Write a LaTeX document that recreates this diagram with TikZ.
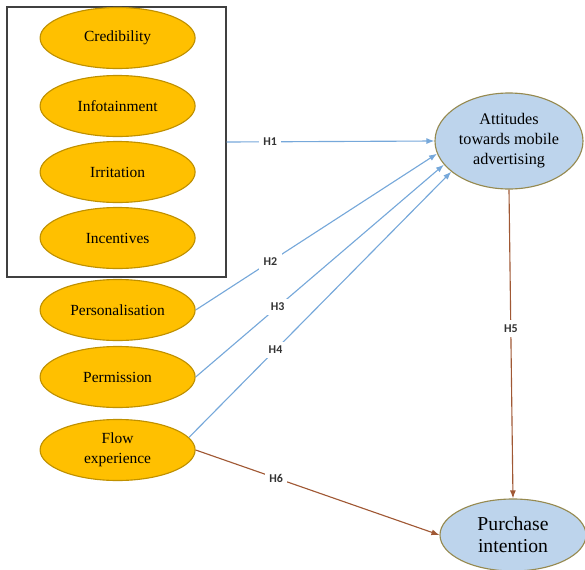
\documentclass[tikz,border=0pt]{standalone}
\definecolor{ambergold}{RGB}{255,192,0}
\definecolor{amberdark}{RGB}{191,144,0}
\definecolor{paleblue}{RGB}{189,212,236}
\definecolor{olivedark}{RGB}{150,138,80}
\definecolor{linkblue}{RGB}{118,168,218}
\definecolor{linkbrown}{RGB}{160,88,52}
\usepackage{fontspec}
\setmainfont{Liberation Serif}
\newfontfamily\hypfont{Carlito}
\usepackage{tikz}
\usetikzlibrary{shapes.geometric,arrows.meta,positioning}

\begin{document}
\begin{tikzpicture}[
			factor/.style={ellipse, draw=amberdark, fill=ambergold, thick,
				minimum width=3.875cm, minimum height=1.525cm, inner sep=0pt,
				align=center, font=\rmfamily\fontsize{11}{14}\selectfont},
			outcome/.style={ellipse, draw=olivedark, fill=paleblue, thick,
				inner sep=0pt, align=center},
			grpbox/.style={draw=black!75, thick, minimum width=5.475cm,
				minimum height=6.75cm, inner sep=0pt},
			arrowb/.style={-{Latex[length=2mm,width=1.5mm]}, linkblue, thick},
			arrowr/.style={-{Latex[length=2mm,width=1.5mm]}, linkbrown, thick},
			hyp/.style={fill=white, inner sep=3pt, font=\hypfont\bfseries\fontsize{8.5}{10}\selectfont, text=black!80}
		]
			\useasboundingbox (0,0) rectangle (14.625,-14.25);
			\node[grpbox] (grp) at (2.9125,-3.55) {};
			\node[factor] (cred) at (2.94,-0.95) {Credibility};
			\node[factor] (info) at (2.94,-2.65) {Infotainment};
			\node[factor] (irr) at (2.94,-4.3) {Irritation};
			\node[factor] (inc) at (2.94,-5.95) {Incentives};
			\node[factor] (pers) at (2.94,-7.75) {Personalisation};
			\node[factor] (perm) at (2.94,-9.425) {Permission};
			\node[factor] (flow) at (2.94,-11.25) {Flow\\experience};
			\node[outcome, minimum width=3.7cm, minimum height=2.4cm,
				font=\rmfamily\fontsize{11.5}{14.2}\selectfont] (att) at (12.725,-3.525)
				{Attitudes\\towards mobile\\advertising};
			\node[outcome, minimum width=3.65cm, minimum height=1.8cm,
				font=\rmfamily\fontsize{14}{16}\selectfont] (pur) at (12.825,-13.375)
				{Purchase\\intention};
			\draw[arrowb] (grp.east) -- node[hyp, pos=0.21] {H1} (att.west);
			\draw[arrowb] (pers.east) -- node[hyp, pos=0.31] {H2} (att.190);
			\draw[arrowb] (perm.east) -- node[hyp, pos=0.33] {H3} (att.200);
			\draw[arrowb] (flow.10) -- node[hyp, pos=0.33] {H4} (att.208);
			\draw[arrowr] (att.south) -- node[hyp, pos=0.45] {H5} (pur.north);
			\draw[arrowr] (flow.east) -- node[hyp, pos=0.33] {H6} (pur.west);
		\end{tikzpicture}
\end{document}
